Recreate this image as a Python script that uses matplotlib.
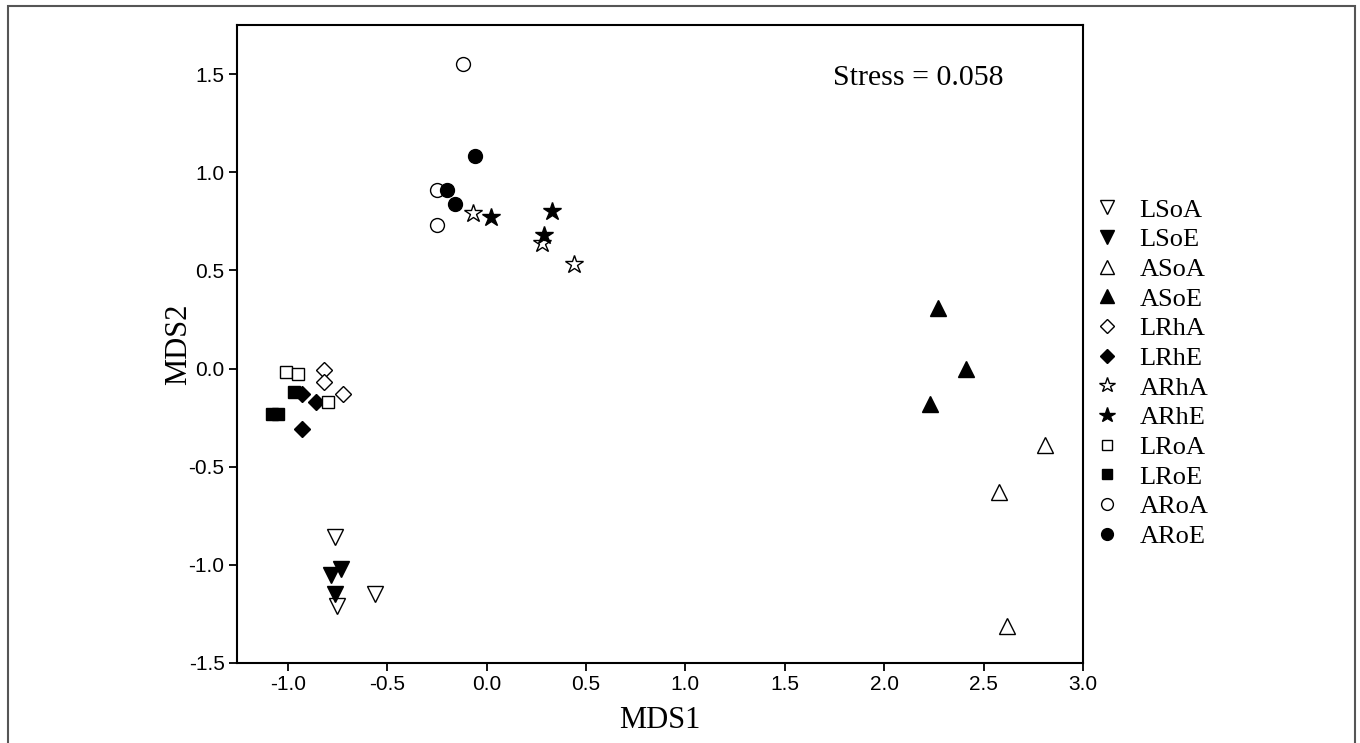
import matplotlib
matplotlib.use("Agg")
import matplotlib.pyplot as plt
from matplotlib.patches import Rectangle
from matplotlib import font_manager

# ---- data ----
groups = ["LSoA", "LSoE", "ASoA", "ASoE", "LRhA", "LRhE",
          "ARhA", "ARhE", "LRoA", "LRoE", "ARoA", "ARoE"]

LSoA_x = [-0.76, -0.75, -0.56]
LSoA_y = [-0.86, -1.21, -1.15]
LSoE_x = [-0.78, -0.73, -0.76]
LSoE_y = [-1.05, -1.02, -1.15]
ASoA_x = [2.58, 2.81, 2.62]
ASoA_y = [-0.63, -0.39, -1.31]
ASoE_x = [2.27, 2.41, 2.23]
ASoE_y = [0.31, 0.00, -0.18]
LRhA_x = [-0.82, -0.82, -0.72]
LRhA_y = [-0.01, -0.07, -0.13]
LRhE_x = [-0.93, -0.86, -0.93]
LRhE_y = [-0.13, -0.17, -0.31]
ARhA_x = [-0.07, 0.28, 0.44]
ARhA_y = [0.79, 0.64, 0.53]
ARhE_x = [0.02, 0.33, 0.29]
ARhE_y = [0.77, 0.80, 0.68]
LRoA_x = [-1.01, -0.95, -0.80]
LRoA_y = [-0.02, -0.03, -0.17]
LRoE_x = [-0.97, -1.08, -1.05]
LRoE_y = [-0.12, -0.23, -0.23]
ARoA_x = [-0.12, -0.25, -0.25]
ARoA_y = [1.55, 0.91, 0.73]
ARoE_x = [-0.06, -0.20, -0.16]
ARoE_y = [1.08, 0.91, 0.84]

stress_text = "Stress = 0.058"
x_ticks = [-1.0, -0.5, 0.0, 0.5, 1.0, 1.5, 2.0, 2.5, 3.0]
y_ticks = [-1.5, -1.0, -0.5, 0.0, 0.5, 1.0, 1.5]

data = {
    "LSoA": (LSoA_x, LSoA_y), "LSoE": (LSoE_x, LSoE_y),
    "ASoA": (ASoA_x, ASoA_y), "ASoE": (ASoE_x, ASoE_y),
    "LRhA": (LRhA_x, LRhA_y), "LRhE": (LRhE_x, LRhE_y),
    "ARhA": (ARhA_x, ARhA_y), "ARhE": (ARhE_x, ARhE_y),
    "LRoA": (LRoA_x, LRoA_y), "LRoE": (LRoE_x, LRoE_y),
    "ARoA": (ARoA_x, ARoA_y), "ARoE": (ARoE_x, ARoE_y),
}
markers = {"LSo": "v", "ASo": "^", "LRh": "D", "ARh": "*", "LRo": "s", "ARo": "o"}
msizes = {"v": 11.5, "^": 11.5, "D": 8.5, "*": 13.5, "s": 8.5, "o": 10}
leg_sizes = {"v": 9.5, "^": 9.5, "D": 7.5, "*": 11.5, "s": 7, "o": 8.5}

names = {f.name for f in font_manager.fontManager.ttflist}
narrow = "Liberation Sans Narrow" if "Liberation Sans Narrow" in names else "Liberation Sans"

fig = plt.figure(figsize=(13.6, 7.43), dpi=100)
ax = fig.add_axes([0.1743, 0.1077, 0.6220, 0.8587])

for g in groups:
    xs, ys = data[g]
    m = markers[g[:3]]
    filled = g.endswith("E")
    ax.plot(xs, ys, linestyle="none", marker=m, markersize=msizes[m],
            markerfacecolor="black" if filled else "white",
            markeredgecolor="black", markeredgewidth=1.0, label=g)

ax.set_xlim(-1.255, 3.0)
ax.set_ylim(-1.5, 1.75)
ax.set_xticks(x_ticks)
ax.set_yticks(y_ticks)
ax.set_xticklabels([f"{v:.1f}" for v in x_ticks], fontfamily=narrow, fontsize=15)
ax.set_yticklabels([f"{v:.1f}" for v in y_ticks], fontfamily="Liberation Sans", fontsize=15)
ax.tick_params(direction="out", length=6, width=1.3, color="black", pad=3)
for s in ax.spines.values():
    s.set_linewidth(1.5)
    s.set_color("black")

ax.set_xlabel("MDS1", fontfamily="Liberation Serif", fontsize=22, labelpad=8)
ax.set_ylabel("MDS2", fontfamily="Liberation Serif", fontsize=22, labelpad=-3)

ax.text(0.805, 0.906, stress_text, transform=ax.transAxes, ha="center", va="baseline",
        fontfamily="Liberation Serif", fontsize=21.5)

# legend
handles = []
for g in groups:
    m = markers[g[:3]]
    filled = g.endswith("E")
    h = plt.Line2D([], [], linestyle="none", marker=m, markersize=leg_sizes[m],
                   markerfacecolor="black" if filled else "white",
                   markeredgecolor="black", markeredgewidth=1.0)
    handles.append(h)
leg = fig.legend(handles, groups, loc="center left", bbox_to_anchor=(0.804, 0.498),
                 frameon=False, prop={"family": "Liberation Serif", "size": 19},
                 labelspacing=0.235, handlelength=1.0, handletextpad=0.75,
                 borderaxespad=0, borderpad=0)

# outer frame
fig.patches.append(Rectangle((8 / 1360, -0.02), (1355 - 8) / 1360, 1.02 - 6 / 743,
                             transform=fig.transFigure, fill=False,
                             edgecolor="#555555", linewidth=1.5, clip_on=False))

fig.savefig("out.png", dpi=100)
